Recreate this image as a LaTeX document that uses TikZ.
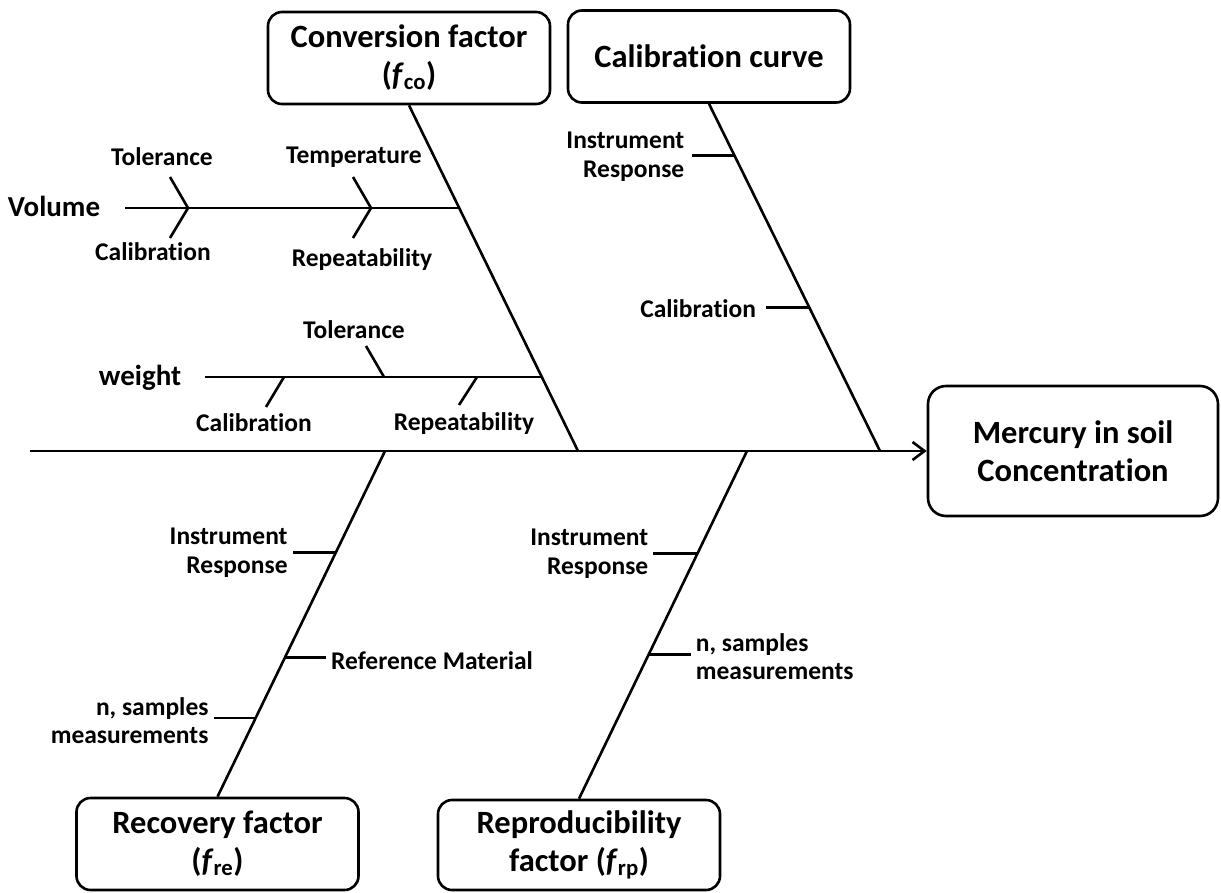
\documentclass[tikz,border=0pt]{standalone}
\usepackage{fontspec}
\setmainfont{Carlito}[Ligatures=NoCommon]
\usetikzlibrary{arrows.meta, positioning, calc}

\begin{document}
\begin{tikzpicture}[
        x=1pt, y=-1pt,
        % Base Box Style
        box/.style={
            rectangle,
            draw=black,
            line width=2.6pt,
            rounded corners=14pt,
            align=center,
            inner sep=0pt,
            font=\fontsize{32.5}{38}\selectfont\bfseries
        },
        % Cause boxes and the effect box
        causeStyle/.style={box, minimum width=282pt, minimum height=92pt},
        effectStyle/.style={box, minimum width=290pt, minimum height=130pt, rounded corners=18pt},
        % Texts
        branchText/.style={inner sep=0pt, font=\fontsize{29}{34}\selectfont\bfseries},
        subText/.style={inner sep=0pt, font=\fontsize{25.5}{28.5}\selectfont\bfseries},
        % Lines
        boneLine/.style={line width=2.6pt, draw=black},
        spineFlow/.style={boneLine, -{Straight Barb[length=12pt, width=18pt]}}
    ]

    % --- BOXES ---
    \node[causeStyle] (conv)  at (409, 58)   {Conversion factor\\(\textit{f}\textsubscript{co})};
    \node[causeStyle] (calib) at (709, 56.5) {Calibration curve};
    \node[causeStyle] (recov) at (217.5, 844) {Recovery factor\\(\textit{f}\textsubscript{re})};
    \node[causeStyle, minimum height=90pt] (repro) at (579, 845) {Reproducibility\\factor (\textit{f}\textsubscript{rp})};
    \node[effectStyle] (effect) at (1073, 451) {Mercury in soil\\Concentration};

    % --- SPINE & MAIN BONES ---
    \coordinate (spineStart) at (30, 451);
    \coordinate (convJoin)   at (578, 451);
    \coordinate (calibJoin)  at (880, 451);
    \coordinate (recovJoin)  at (385, 451);
    \coordinate (reproJoin)  at (747, 451);

    \draw[spineFlow] (spineStart) -- (effect.west);

    \draw[boneLine] (conv.south) -- (convJoin)
        coordinate[pos=0.2997] (volJoin) coordinate[pos=0.7867] (wtJoin);
    \draw[boneLine] (calib.south) -- (calibJoin)
        coordinate[pos=0.149] (calibInstr) coordinate[pos=0.586] (calibCal);
    \draw[boneLine] (recov.north) -- (recovJoin)
        coordinate[pos=0.706] (recovInstr) coordinate[pos=0.403] (recovRef) coordinate[pos=0.228] (recovSamp);
    \draw[boneLine] (repro.north) -- (reproJoin)
        coordinate[pos=0.705] (reproInstr) coordinate[pos=0.415] (reproSamp);

    % --- VOLUME BRANCH ---
    \node[branchText] (volume) at (54, 206) {Volume};
    \coordinate (volStart) at (125, 208);
    \draw[boneLine] (volStart) -- (volStart -| volJoin);

    \coordinate (volTipA) at (188, 208);
    \coordinate (volTipB) at (371, 208);
    \draw[boneLine] ($(volTipA)+(-18,-31)$) -- (volTipA) -- ($(volTipA)+(-18,30)$);
    \draw[boneLine] ($(volTipB)+(-18,-31)$) -- (volTipB) -- ($(volTipB)+(-18,30)$);

    \node[subText] (volTol)  at (162, 157) {Tolerance};
    \node[subText] (volCal)  at (153, 252) {Calibration};
    \node[subText] (volTemp) at (354, 157) {Temperature};
    \node[subText] (volRep)  at (362, 260) {Repeatability};

    % --- WEIGHT BRANCH ---
    \node[branchText] (weight) at (140, 378) {weight};
    \coordinate (wtStart) at (205, 377);
    \draw[boneLine] (wtStart) -- (wtStart -| wtJoin);

    \coordinate (wtTolBase) at (384, 377);
    \coordinate (wtCalBase) at (284, 377);
    \coordinate (wtRepBase) at (477, 377);
    \draw[boneLine] (wtTolBase) -- ++(-18,-31);
    \draw[boneLine] (wtCalBase) -- ++(-18,30);
    \draw[boneLine] (wtRepBase) -- ++(-18,28);

    \node[subText] (wtTol) at (354, 330) {Tolerance};
    \node[subText] (wtCal) at (254, 423) {Calibration};
    \node[subText] (wtRep) at (464, 424) {Repeatability};

    % --- CALIBRATION CURVE SUB-CAUSES ---
    \draw[boneLine] (calibInstr) -- ++(-42,0) coordinate (calibInstrEnd);
    \draw[boneLine] (calibCal) -- ++(-43,0) coordinate (calibCalEnd);
    \node[subText, align=right, anchor=east] (calibInstrLbl) at ($(calibInstrEnd)+(-8,1)$) {Instrument\\Response};
    \node[subText, anchor=east] (calibCalLbl) at ($(calibCalEnd)+(-10,1)$) {Calibration};

    % --- RECOVERY FACTOR SUB-CAUSES ---
    \draw[boneLine] (recovInstr) -- ++(-43,0) coordinate (recovInstrEnd);
    \draw[boneLine] (recovRef) -- ++(41,0) coordinate (recovRefEnd);
    \draw[boneLine] (recovSamp) -- ++(-42,0) coordinate (recovSampEnd);
    \node[subText, align=right, anchor=east] (recovInstrLbl) at ($(recovInstrEnd)+(-5,0)$) {Instrument\\Response};
    \node[subText, anchor=west] (recovRefLbl) at ($(recovRefEnd)+(5,3)$) {Reference Material};
    \node[subText, align=right, anchor=east] (recovSampLbl) at ($(recovSampEnd)+(-5,3)$) {n, samples\\measurements};

    % --- REPRODUCIBILITY FACTOR SUB-CAUSES ---
    \draw[boneLine] (reproInstr) -- ++(-44,0) coordinate (reproInstrEnd);
    \draw[boneLine] (reproSamp) -- ++(42,0) coordinate (reproSampEnd);
    \node[subText, align=right, anchor=east] (reproInstrLbl) at ($(reproInstrEnd)+(-5,0)$) {Instrument\\Response};
    \node[subText, align=left, anchor=west] (reproSampLbl) at ($(reproSampEnd)+(5,2)$) {n, samples\\measurements};

    % Fix the bounding box to the reference frame
    \pgfresetboundingbox
    \path (0, 0) rectangle (1221, 892);

\end{tikzpicture}
\end{document}
